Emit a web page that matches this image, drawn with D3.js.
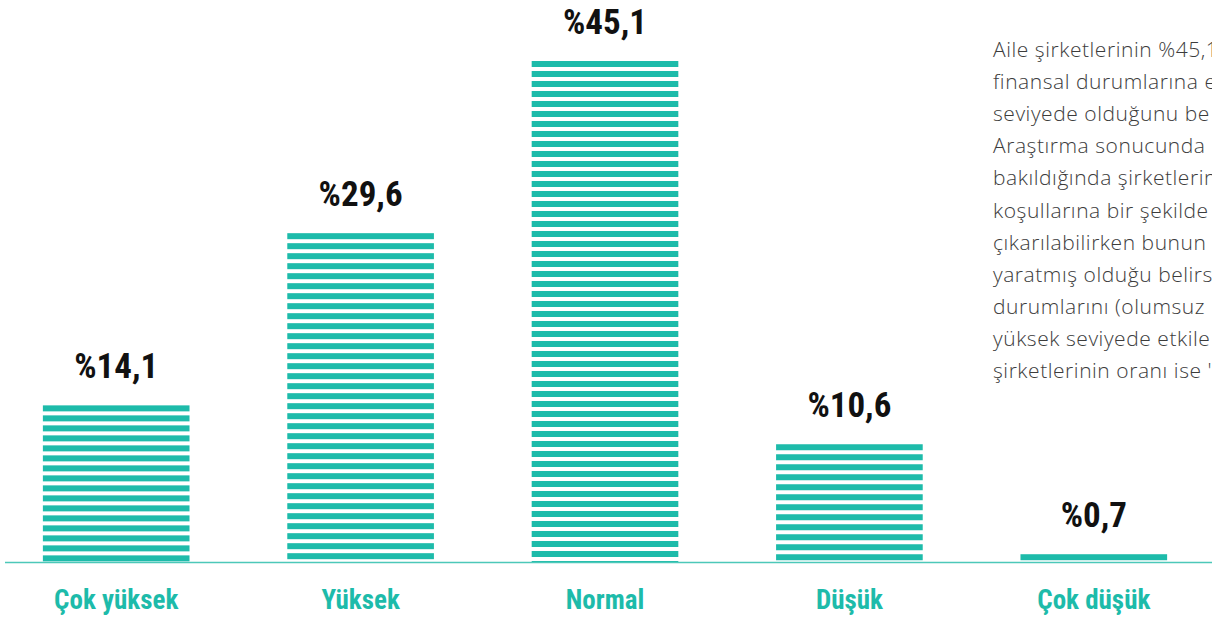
<!DOCTYPE html>
<html><head><meta charset="utf-8">
<script src="https://cdn.jsdelivr.net/npm/d3@7/dist/d3.min.js"></script>
<style>html,body{margin:0;padding:0;background:#fff;overflow:hidden}</style>
</head><body>
<svg id="chart" width="1212" height="622"></svg>
<script>
const categories = ["Çok yüksek", "Yüksek", "Normal", "Düşük", "Çok düşük"];
const values = [14.1, 29.6, 45.1, 10.6, 0.7];
const valueLabels = ["%14,1", "%29,6", "%45,1", "%10,6", "%0,7"];
const noteLines = [
  "Aile şirketlerinin %45,1",
  "finansal durumlarına e",
  "seviyede olduğunu be",
  "Araştırma sonucunda",
  "bakıldığında şirketlerin",
  "koşullarına bir şekilde",
  "çıkarılabilirken bunun",
  "yaratmış olduğu belirs",
  "durumlarını (olumsuz",
  "yüksek seviyede etkile",
  "şirketlerinin oranı ise '"
];

const teal = "#1dbbaa";
const svg = d3.select("#chart");
const baseY = 562;

const x = d3.scaleBand().domain(categories).range([-6, 1216]).paddingInner(0.4).paddingOuter(0.2);
const y = d3.scaleLinear().domain([0, 45.1]).range([baseY, 61]);

const data = categories.map((c, i) => ({c, v: values[i], label: valueLabels[i]}));

// striped bars
const g = svg.append("g");
data.forEach(d => {
  const top = y(d.v);
  const stripes = d3.range(top, baseY, 10);
  g.selectAll(null).data(stripes).enter().append("rect")
    .attr("x", x(d.c))
    .attr("width", x.bandwidth())
    .attr("y", s => s)
    .attr("height", s => Math.min(6, baseY - s))
    .attr("fill", teal);
});

// baseline
svg.append("line").attr("x1", 5).attr("x2", 1212).attr("y1", baseY + 0.5).attr("y2", baseY + 0.5)
  .attr("stroke", "#4cc8b9").attr("stroke-width", 1.6);

// value labels
svg.selectAll(".val").data(data).enter().append("text")
  .attr("x", d => x(d.c) + x.bandwidth() / 2)
  .attr("y", d => y(d.v) - 27)
  .attr("text-anchor", "middle")
  .style("font-family", "'Liberation Sans Narrow', 'Roboto Condensed', Roboto, sans-serif")
  .style("font-weight", "bold")
  .style("font-size", "35px")
  .attr("fill", "#111")
  .text(d => d.label);

// category labels
svg.selectAll(".cat").data(data).enter().append("text")
  .attr("x", d => x(d.c) + x.bandwidth() / 2)
  .attr("y", 609)
  .attr("text-anchor", "middle")
  .style("font-family", "'Liberation Sans Narrow', 'Roboto Condensed', Roboto, sans-serif")
  .style("font-weight", "bold")
  .style("font-size", "27px")
  .attr("fill", teal)
  .text(d => d.c);

// side note
svg.append("g").selectAll("text").data(noteLines).enter().append("text")
  .attr("x", 993)
  .attr("y", (d, i) => 57 + i * 32.1)
  .style("font-family", "'Open Sans', sans-serif")
  .style("font-weight", 300)
  .style("font-size", "21px")
  .style("letter-spacing", "0.55px")
  .attr("fill", "#3c3c3c")
  .text(d => d);
</script>
</body></html>
